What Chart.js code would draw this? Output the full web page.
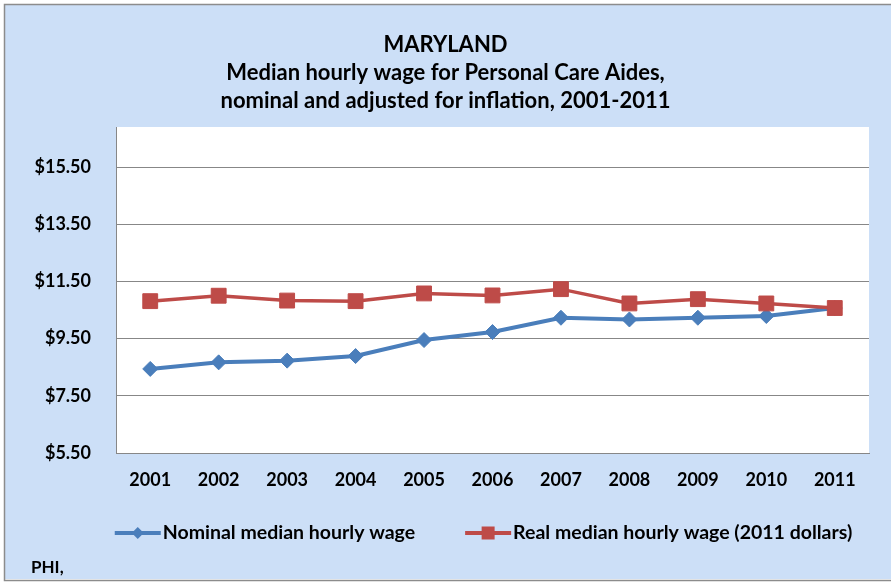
<!DOCTYPE html>
<html>
<head>
<meta charset="utf-8">
<title>Maryland - Personal Care Aides wage</title>
<script src="https://cdn.jsdelivr.net/npm/chart.js@4.4.0/dist/chart.umd.min.js"></script>
<style>
	html, body { margin: 0; padding: 0; background: #ffffff; }
	#chart-wrap { width: 891px; height: 582px; position: relative; }
</style>
</head>
<body>
<div id="chart-wrap"><canvas id="wage-chart"></canvas></div>
<script>
// data
const years = ['2001', '2002', '2003', '2004', '2005', '2006', '2007', '2008', '2009', '2010', '2011'];
const nominalWage = [8.44, 8.67, 8.73, 8.89, 9.45, 9.73, 10.23, 10.17, 10.23, 10.29, 10.57];
const realWage = [10.81, 11.00, 10.83, 10.81, 11.08, 11.01, 11.23, 10.73, 10.88, 10.73, 10.57];
const yTicks = [5.5, 7.5, 9.5, 11.5, 13.5, 15.5];
const titleLines = [
	'MARYLAND',
	'Median hourly wage for Personal Care Aides,',
	'nominal and adjusted for inflation, 2001-2011'
];
const sourceNote = 'PHI,';

const BLUE = '#4A7EBB';
const RED = '#BE4B48';
const GRID = '#878787';
const PANEL = '#CCDFF7';
const FONT = 'Lato';

// draws the marker shape of a series (legend only)
function drawMarker(g, shape, cx, cy) {
	g.beginPath();
	if (shape === 'rectRot') {
		g.moveTo(cx, cy - 6); g.lineTo(cx + 6, cy); g.lineTo(cx, cy + 6); g.lineTo(cx - 6, cy);
	} else {
		g.rect(cx - 6.5, cy - 6.5, 13, 13);
	}
	g.closePath();
	g.fill();
}

// panel background, white plot area, frame, legend and source note
const panelPlugin = {
	id: 'panel',
	beforeDraw(chart) {
		const { ctx, chartArea: a } = chart;
		ctx.save();
		ctx.fillStyle = '#ffffff';
		ctx.fillRect(0, 0, chart.width, chart.height);
		ctx.fillStyle = PANEL;
		ctx.fillRect(5, 5, chart.width, chart.height - 8);
		ctx.strokeStyle = '#8c8c8c';
		ctx.lineWidth = 1.5;
		ctx.strokeRect(4.5, 4.5, chart.width + 10, chart.height - 6);
		ctx.fillStyle = '#ffffff';
		ctx.fillRect(a.left, a.top, a.right - a.left, a.bottom - a.top);
		ctx.restore();
	},
	afterDraw(chart) {
		const ctx = chart.ctx;
		const sets = chart.data.datasets;
		ctx.save();
		ctx.fillStyle = '#000000';
		ctx.textBaseline = 'middle';

		// legend: line + marker swatch, then label
		ctx.font = 'bold 19.5px ' + FONT;
		const swatchW = 46, swatchGap = 2, itemGap = 50, legendY = 533;
		const widths = sets.map(ds => swatchW + swatchGap + ctx.measureText(ds.label).width);
		const total = widths.reduce((s, w) => s + w, 0) + itemGap * (sets.length - 1);
		let x = 483.5 - total / 2;
		sets.forEach((ds, i) => {
			ctx.strokeStyle = ds.borderColor;
			ctx.fillStyle = ds.borderColor;
			ctx.lineWidth = 4;
			ctx.beginPath();
			ctx.moveTo(x, legendY);
			ctx.lineTo(x + swatchW, legendY);
			ctx.stroke();
			drawMarker(ctx, ds.pointStyle, x + swatchW / 2, legendY);
			ctx.fillStyle = '#000000';
			ctx.fillText(ds.label, x + swatchW + swatchGap, legendY);
			x += widths[i] + itemGap;
		});

		ctx.font = 'bold 17px ' + FONT;
		ctx.fillText(sourceNote, 31, 568);
		ctx.restore();
	}
};

document.addEventListener('DOMContentLoaded', function () {
	const ctx = document.getElementById('wage-chart');
	if (!ctx || !window.Chart) return;
	Chart.defaults.font.family = FONT;
	Chart.defaults.color = '#000000';

	new Chart(ctx, {
		type: 'line',
		data: {
			labels: years,
			datasets: [{
				label: 'Nominal median hourly wage',
				data: nominalWage,
				borderColor: BLUE,
				backgroundColor: BLUE,
				borderWidth: 4,
				pointStyle: 'rectRot',
				pointRadius: 7.5,
				pointBorderWidth: 1,
				tension: 0,
				order: 1
			}, {
				label: 'Real median hourly wage (2011 dollars)',
				data: realWage,
				borderColor: RED,
				backgroundColor: RED,
				borderWidth: 3.5,
				pointStyle: 'rect',
				pointRadius: 10.5,
				pointBorderWidth: 1,
				tension: 0,
				order: 0
			}]
		},
		options: {
			responsive: true,
			maintainAspectRatio: false,
			animation: false,
			layout: { padding: { left: 22, right: 22, top: 0, bottom: 89 } },
			scales: {
				x: {
					offset: true,
					grid: { display: false, drawTicks: false },
					border: { display: true, color: GRID, width: 1 },
					ticks: { padding: 16, font: { size: 18, weight: 'bold' } },
					afterFit(scale) { scale.height = 40; }
				},
				y: {
					min: 5.5,
					max: 16.9,
					grid: { color: GRID, lineWidth: 1, drawTicks: false },
					border: { display: true, color: GRID, width: 1 },
					ticks: {
						padding: 25,
						font: { size: 18, weight: 'bold' },
						callback: function (v) { return '$' + Number(v).toFixed(2); }
					},
					afterBuildTicks(scale) {
						scale.ticks = yTicks.map(v => ({ value: v }));
					},
					afterFit(scale) { scale.width = 94; }
				}
			},
			plugins: {
				title: {
					display: true,
					text: titleLines,
					color: '#000000',
					font: { size: 22, weight: 'bold', lineHeight: 28 / 22 },
					padding: { top: 31, bottom: 12 }
				},
				legend: { display: false },
				tooltip: { enabled: false }
			}
		},
		plugins: [panelPlugin]
	});
});
</script>
</body>
</html>
